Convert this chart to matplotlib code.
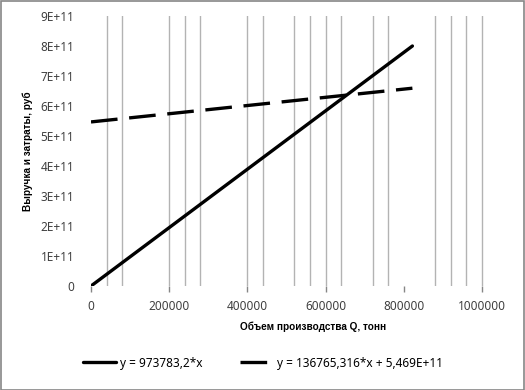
import matplotlib
matplotlib.use("Agg")
import matplotlib.pyplot as plt
from matplotlib.patches import Rectangle

plt.rcParams['font.family'] = ['Noto Sans', 'DejaVu Sans']

# Data
q_values = [0, 822000]
revenue = [0, 8.0e11]
costs = [5.469e11, 6.593e11]
revenue_label = "y = 973783,2*x"
costs_label = "y = 136765,316*x + 5,469E+11"
grid_x = [40000, 80000, 200000, 240000, 280000, 400000, 440000, 520000, 560000,
          600000, 640000, 720000, 760000, 880000, 920000, 960000, 1000000]
x_ticks = [0, 200000, 400000, 600000, 800000, 1000000]
y_ticks = [0, 1e11, 2e11, 3e11, 4e11, 5e11, 6e11, 7e11, 8e11, 9e11]
y_ticklabels = ["0", "1E+11", "2E+11", "3E+11", "4E+11", "5E+11", "6E+11", "7E+11", "8E+11", "9E+11"]
x_title = "Объем производства Q, тонн"
y_title = "Выручка и затраты, руб"

W, H = 525, 390
fig = plt.figure(figsize=(W / 100, H / 100), dpi=100)
ax = fig.add_axes([91 / W, 1 - 286 / H, (510 - 91) / W, (286 - 16) / H])

for gx in grid_x:
    ax.axvline(gx, color="#b3b3b3", lw=1.0, zorder=1)

ax.plot(q_values, revenue, color="black", lw=2.4, solid_capstyle="round", zorder=3, label=revenue_label)
ax.plot(q_values, costs, color="black", lw=2.4, dashes=(8, 3.5), zorder=3, label=costs_label)

ax.set_xlim(0, 1e6 * (510 - 91) / (482 - 91))
ax.set_ylim(0, 9e11)
ax.set_xticks(x_ticks)
ax.set_xticklabels([str(v) for v in x_ticks])
ax.set_yticks(y_ticks)
ax.set_yticklabels(y_ticklabels)
for s in ax.spines.values():
    s.set_visible(False)
ax.tick_params(axis="x", length=4, width=1, color="#868686", pad=6, labelsize=8.5, labelcolor="#404040")
ax.tick_params(axis="y", length=0, pad=12, labelsize=8.5, labelcolor="#404040")

title_font = ['Liberation Sans', 'DejaVu Sans']
fig.text(313 / W, 1 - 327 / H, x_title, ha="center", va="center", fontsize=7.2,
         fontweight="bold", family=title_font)
fig.text(28 / W, 1 - 151 / H, y_title, ha="center", va="center", rotation=90, fontsize=7.2,
         fontweight="bold", family=title_font)

fig.legend(loc="center", bbox_to_anchor=(263 / W, 1 - 363 / H), ncol=2, frameon=False,
           fontsize=8.5, handlelength=2.8, columnspacing=3.2, handletextpad=0.3)

fig.patches.append(Rectangle((0.5 / W, 0.5 / H), 1 - 1.5 / W, 1 - 1.5 / H, transform=fig.transFigure,
                             fill=False, edgecolor="#868686", lw=1.2))

fig.savefig("out.png", dpi=100)
